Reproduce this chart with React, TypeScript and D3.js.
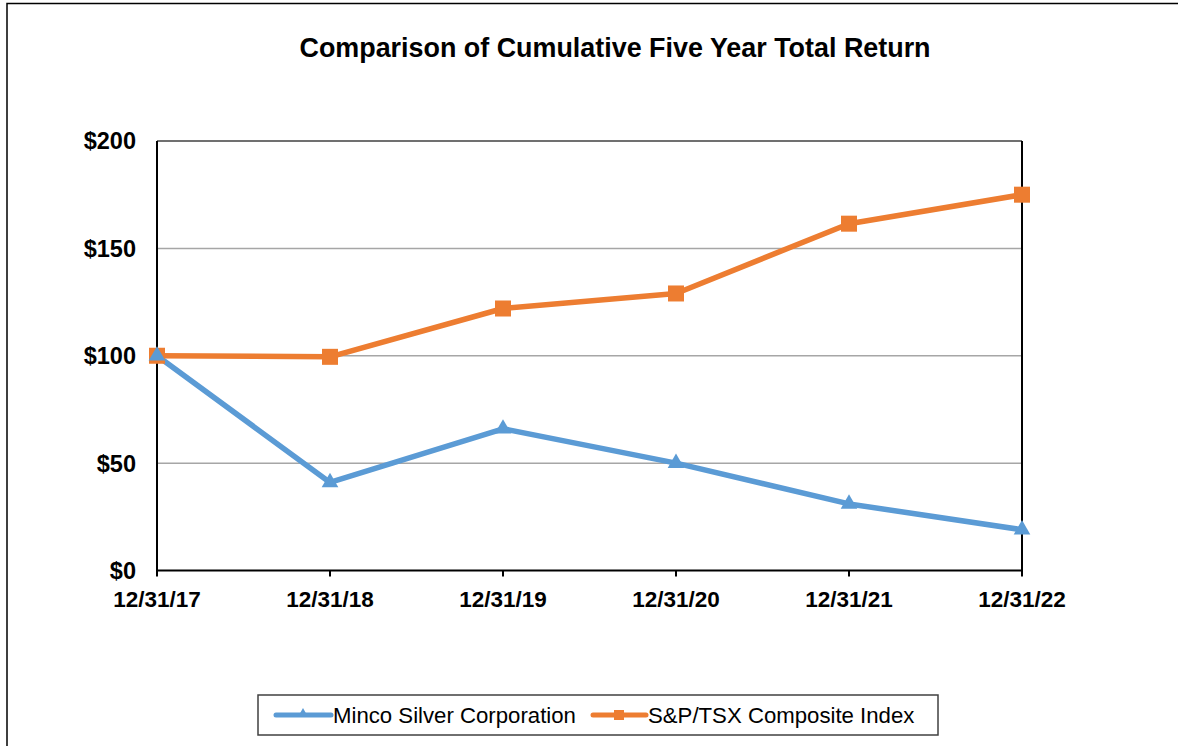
import React from "react";
import * as d3 from "d3";

const categories = ["12/31/17", "12/31/18", "12/31/19", "12/31/20", "12/31/21", "12/31/22"];
const mincoValues = [100, 41, 66, 50, 31, 19];
const tsxValues = [100, 99.5, 122, 129, 161.5, 175];
const yTicks = [0, 50, 100, 150, 200];
const seriesNames = ["Minco Silver Corporation", "S&P/TSX Composite Index"];
const title = "Comparison of Cumulative Five Year Total Return";

const W = 1178;
const H = 746;
const BLUE = "#5B9BD5";
const ORANGE = "#ED7D31";
const FONT = "'Liberation Sans', Arial, sans-serif";

export default function App() {
  const x = d3.scalePoint<string>().domain(categories).range([157, 1022]);
  const y = d3.scaleLinear().domain([0, 200]).range([570.5, 141]);
  const line = d3
    .line<number>()
    .x((_, i) => x(categories[i]) as number)
    .y((d) => y(d));

  const tri = d3.symbol().type(d3.symbolTriangle).size(120)();

  const square = (cx: number, cy: number, key: string) => (
    <rect key={key} x={cx - 8} y={cy - 8} width={16} height={16} fill={ORANGE} />
  );

  return (
    <svg
      width={W}
      height={H}
      style={{ position: "absolute", left: 0, top: 0, display: "block" }}
    >
      <rect x={0} y={0} width={W} height={H} fill="#fff" />
      <rect x={7} y={3.5} width={1300} height={900} fill="none" stroke="#000" strokeWidth={1.5} />

      <text
        x={615}
        y={57}
        textAnchor="middle"
        fontFamily={FONT}
        fontWeight="bold"
        fontSize={26.9}
        fill="#000"
      >
        {title}
      </text>

      {/* gridlines */}
      {yTicks.slice(1, -1).map((t) => (
        <line key={t} x1={157} x2={1022} y1={y(t)} y2={y(t)} stroke="#A6A6A6" strokeWidth={1.5} />
      ))}
      {/* plot border */}
      <line x1={157} x2={1022} y1={y(200)} y2={y(200)} stroke="#404040" strokeWidth={1.5} />
      <line x1={1022} x2={1022} y1={y(200)} y2={y(0)} stroke="#000" strokeWidth={2} />
      <line x1={157} x2={157} y1={y(200)} y2={y(0)} stroke="#000" strokeWidth={2} />
      <line x1={156} x2={1023} y1={y(0)} y2={y(0)} stroke="#000" strokeWidth={2} />
      {categories.map((c) => (
        <line key={c} x1={x(c)} x2={x(c)} y1={y(0)} y2={y(0) + 6} stroke="#000" strokeWidth={2} />
      ))}

      {/* y labels */}
      {yTicks.map((t) => (
        <text
          key={t}
          x={136}
          y={y(t)}
          dy="0.36em"
          textAnchor="end"
          fontFamily={FONT}
          fontWeight="bold"
          fontSize={23.5}
          fill="#000"
        >
          {`$${t}`}
        </text>
      ))}
      {/* x labels */}
      {categories.map((c) => (
        <text
          key={c}
          x={x(c)}
          y={607}
          textAnchor="middle"
          fontFamily={FONT}
          fontWeight="bold"
          fontSize={22.5}
          fill="#000"
        >
          {c}
        </text>
      ))}

      {/* series */}
      <path d={line(tsxValues) as string} fill="none" stroke={ORANGE} strokeWidth={5.5} strokeLinejoin="round" />
      <path d={line(mincoValues) as string} fill="none" stroke={BLUE} strokeWidth={5.5} strokeLinejoin="round" />
      {tsxValues.map((v, i) => square(x(categories[i]) as number, y(v), "s" + i))}
      {mincoValues.map((v, i) => (
        <path
          key={"t" + i}
          d={tri as string}
          transform={`translate(${x(categories[i])},${y(v)})`}
          fill={BLUE}
        />
      ))}

      {/* legend */}
      <rect x={258} y={695} width={680} height={40} fill="#fff" stroke="#404040" strokeWidth={1.5} />
      <line x1={276} x2={331} y1={715} y2={715} stroke={BLUE} strokeWidth={5} strokeLinecap="round" />
      <path d={d3.symbol().type(d3.symbolTriangle).size(45)() as string} transform="translate(303,714)" fill={BLUE} />
      <text x={333} y={723} fontFamily={FONT} fontSize={22.2} fill="#000">
        {seriesNames[0]}
      </text>
      <line x1={593} x2={646} y1={715} y2={715} stroke={ORANGE} strokeWidth={5} strokeLinecap="round" />
      <rect x={614} y={710} width={10} height={10} fill={ORANGE} />
      <text x={648} y={723} fontFamily={FONT} fontSize={22.2} fill="#000">
        {seriesNames[1]}
      </text>
    </svg>
  );
}
